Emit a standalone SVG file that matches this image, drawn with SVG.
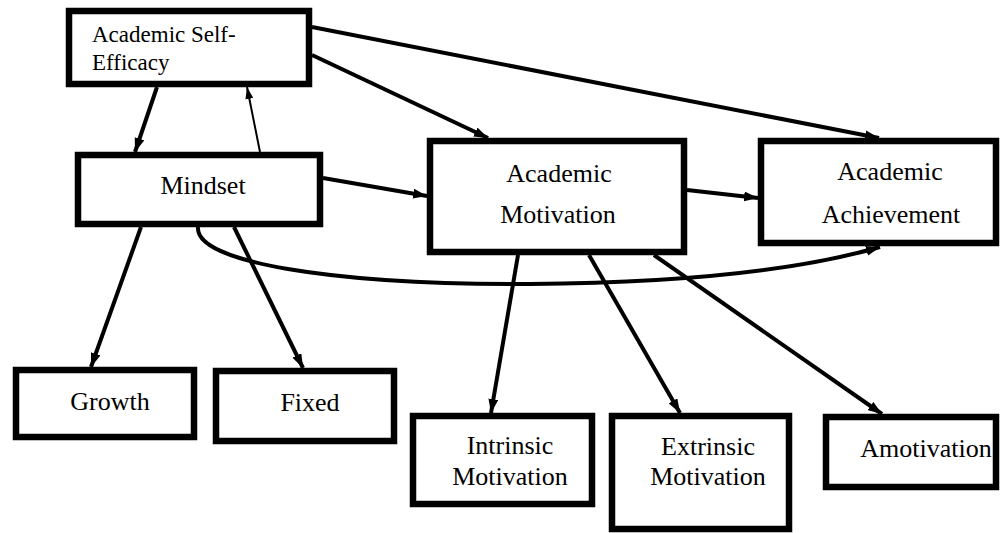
<svg xmlns="http://www.w3.org/2000/svg" width="1002" height="533" viewBox="0 0 1002 533">
<style>
.box{fill:#fff;stroke:#000;stroke-width:6.5}
.c{fill:none;stroke:#000;stroke-width:4}
.thin{fill:none;stroke:#000;stroke-width:2}
text{font-family:'Liberation Serif','Times New Roman',Times,'DejaVu Serif',serif;fill:#000}
.t{font-size:26px;text-anchor:middle}
.ts{font-size:23px}
</style>
<defs>
<marker id="ah" viewBox="0 0 14 10" refX="14" refY="5" markerWidth="14" markerHeight="10" markerUnits="userSpaceOnUse" orient="auto">
<path d="M0,0 L14,5 L0,10 Z" fill="#000"/>
</marker>
<marker id="ahs" viewBox="0 0 12 8" refX="12" refY="4" markerWidth="12" markerHeight="8" markerUnits="userSpaceOnUse" orient="auto">
<path d="M0,0 L12,4 L0,8 Z" fill="#000"/>
</marker>
</defs>
<rect width="1002" height="533" fill="#fff"/>
<g id="connectors">
<line class="c" x1="157" y1="87" x2="135" y2="152" marker-end="url(#ah)"/>
<line class="thin" x1="260" y1="152" x2="247" y2="87" marker-end="url(#ahs)"/>
<line class="c" x1="312" y1="55" x2="488" y2="138" marker-end="url(#ah)"/>
<line class="c" x1="312" y1="27" x2="879" y2="138" marker-end="url(#ah)"/>
<line class="c" x1="323" y1="178" x2="427" y2="196" marker-end="url(#ah)"/>
<line class="c" x1="687" y1="190" x2="758" y2="198" marker-end="url(#ah)"/>
<line class="c" x1="141" y1="227" x2="91" y2="367" marker-end="url(#ah)"/>
<line class="c" x1="234" y1="227" x2="303" y2="368" marker-end="url(#ah)"/>
<path class="c" d="M198,227 C195,262 330,285 530,284 C680,283 800,270 880,247" marker-end="url(#ah)"/>
<line class="c" x1="518" y1="255" x2="491" y2="413" marker-end="url(#ah)"/>
<line class="c" x1="589" y1="255" x2="680" y2="413" marker-end="url(#ah)"/>
<line class="c" x1="654" y1="255" x2="882" y2="414" marker-end="url(#ah)"/>
</g>
<g id="self-efficacy">
<rect class="box" x="69" y="11" width="240" height="73"/>
<text class="ts" x="92" y="42" font-family="Liberation Serif, serif">Academic Self-</text>
<text class="ts" x="92" y="70" font-family="Liberation Serif, serif">Efficacy</text>
</g>
<g id="mindset">
<rect class="box" x="78" y="155" width="242" height="69"/>
<text class="t" x="203" y="194">Mindset</text>
</g>
<g id="motivation">
<rect class="box" x="430" y="141" width="254" height="111"/>
<text class="t" x="559" y="182">Academic</text>
<text class="t" x="558" y="223">Motivation</text>
</g>
<g id="achievement">
<rect class="box" x="761" y="141" width="235" height="102"/>
<text class="t" x="890" y="180">Academic</text>
<text class="t" x="891" y="223">Achievement</text>
</g>
<g id="growth">
<rect class="box" x="16" y="370" width="178" height="67"/>
<text class="t" x="110" y="410">Growth</text>
</g>
<g id="fixed">
<rect class="box" x="216" y="371" width="178" height="70"/>
<text class="t" x="310" y="411">Fixed</text>
</g>
<g id="intrinsic">
<rect class="box" x="413" y="416" width="179" height="88"/>
<text class="t" x="510" y="454">Intrinsic</text>
<text class="t" x="510" y="485">Motivation</text>
</g>
<g id="extrinsic">
<rect class="box" x="612" y="416" width="177" height="113"/>
<text class="t" x="708" y="455">Extrinsic</text>
<text class="t" x="708" y="485">Motivation</text>
</g>
<g id="amotivation">
<rect class="box" x="826" y="417" width="170" height="70"/>
<text class="t" x="926" y="457">Amotivation</text>
</g>
</svg>
